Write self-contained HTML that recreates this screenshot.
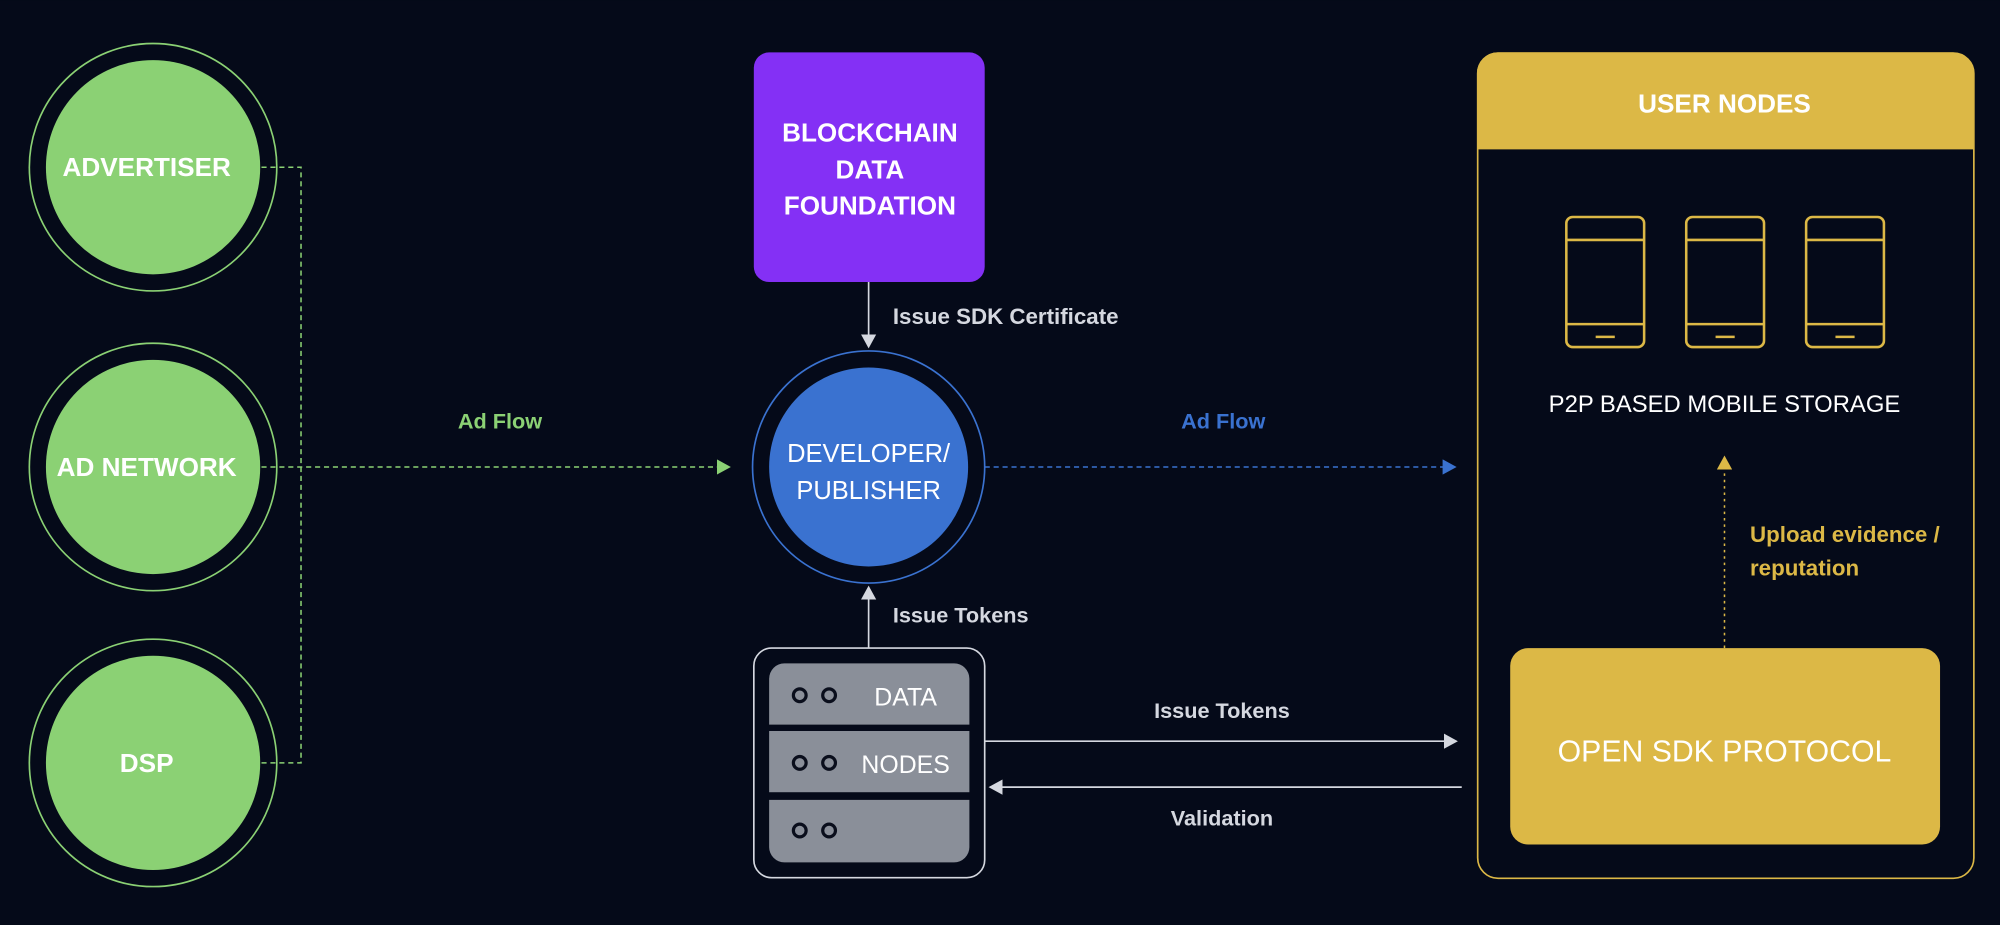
<!DOCTYPE html>
<html><head><meta charset="utf-8"><style>
html,body{margin:0;padding:0;background:#050a19;}
svg{display:block}
text{font-family:"Liberation Sans",sans-serif;}
</style></head><body>
<svg width="2000" height="925" viewBox="0 0 1568 725" xmlns="http://www.w3.org/2000/svg">
<rect width="1568" height="725" fill="#050a19"/>
<defs>
<marker id="ag" markerWidth="12" markerHeight="12" refX="9" refY="6" orient="auto" markerUnits="userSpaceOnUse"><path d="M0,0 L11,6 L0,12 z" fill="#8bd174"/></marker>
<marker id="ab" markerWidth="12" markerHeight="12" refX="9" refY="6" orient="auto" markerUnits="userSpaceOnUse"><path d="M0,0 L11,6 L0,12 z" fill="#3a72d0"/></marker>
<marker id="aw" markerWidth="12" markerHeight="12" refX="9" refY="6" orient="auto" markerUnits="userSpaceOnUse"><path d="M0,0 L11,6 L0,12 z" fill="#d5d8e0"/></marker>
<marker id="ay" markerWidth="12" markerHeight="12" refX="9" refY="6" orient="auto" markerUnits="userSpaceOnUse"><path d="M0,0 L11,6 L0,12 z" fill="#dcb846"/></marker>
</defs>

<g fill="none" stroke="#8bd174" stroke-width="1.3">
<circle cx="120" cy="131" r="97"/><circle cx="120" cy="366" r="97"/><circle cx="120" cy="598" r="97"/>
</g>
<g fill="#8bd174">
<circle cx="120" cy="131" r="84"/><circle cx="120" cy="366" r="84"/><circle cx="120" cy="598" r="84"/>
</g>
<g fill="#fff" font-weight="bold" font-size="20.5" text-anchor="middle">
<text x="115" y="138">ADVERTISER</text>
<text x="115" y="373">AD NETWORK</text>
<text x="115" y="605">DSP</text>
</g>
<g fill="none" stroke="#8bd174" stroke-width="1.2" stroke-dasharray="4,3">
<path d="M205,131 H236 V598 H205"/>
<path d="M205,366 H571" marker-end="url(#ag)"/>
</g>
<text x="392" y="336" fill="#8bd174" font-size="17" font-weight="bold" text-anchor="middle">Ad Flow</text>

<rect x="591" y="41" width="181" height="180" rx="12" fill="#8430f5"/>
<g fill="#fff" font-weight="bold" font-size="20.5" text-anchor="middle">
<text x="682" y="111">BLOCKCHAIN</text><text x="682" y="140">DATA</text><text x="682" y="168">FOUNDATION</text>
</g>
<line x1="681" y1="221" x2="681" y2="271" stroke="#d5d8e0" stroke-width="1.3" marker-end="url(#aw)"/>
<text x="700" y="254" fill="#d5d8e0" font-size="17.5" font-weight="bold">Issue SDK Certificate</text>

<circle cx="681" cy="366" r="91" fill="none" stroke="#3a72d0" stroke-width="1.3"/>
<circle cx="681" cy="366" r="78" fill="#3a72d0"/>
<g fill="#fff" font-size="20" text-anchor="middle">
<text x="681" y="362">DEVELOPER/</text><text x="681" y="391">PUBLISHER</text>
</g>
<line x1="772" y1="366" x2="1140" y2="366" stroke="#3a72d0" stroke-width="1.2" stroke-dasharray="4,3" marker-end="url(#ab)"/>
<text x="959" y="336" fill="#3a72d0" font-size="17" font-weight="bold" text-anchor="middle">Ad Flow</text>

<line x1="681" y1="508" x2="681" y2="461" stroke="#d5d8e0" stroke-width="1.3" marker-end="url(#aw)"/>
<text x="700" y="488" fill="#d5d8e0" font-size="17" font-weight="bold">Issue Tokens</text>

<rect x="591" y="508" width="181" height="180" rx="14" fill="none" stroke="#d5d8e0" stroke-width="1.3"/>
<path d="M603,532 a12,12 0 0 1 12,-12 H748 a12,12 0 0 1 12,12 V568 H603z" fill="#8a8f99"/>
<rect x="603" y="573" width="157" height="48" fill="#8a8f99"/>
<path d="M603,627 H760 V664 a12,12 0 0 1 -12,12 H615 a12,12 0 0 1 -12,-12z" fill="#8a8f99"/>
<g fill="none" stroke="#0a0e1c" stroke-width="2.5">
<circle cx="627" cy="545" r="5"/><circle cx="650" cy="545" r="5"/>
<circle cx="627" cy="598" r="5"/><circle cx="650" cy="598" r="5"/>
<circle cx="627" cy="651" r="5"/><circle cx="650" cy="651" r="5"/>
</g>
<g fill="#fff" font-size="19.5" text-anchor="middle">
<text x="710" y="553">DATA</text><text x="710" y="606">NODES</text>
</g>

<line x1="772" y1="581" x2="1141" y2="581" stroke="#d5d8e0" stroke-width="1.3" marker-end="url(#aw)"/>
<text x="958" y="563" fill="#d5d8e0" font-size="17" font-weight="bold" text-anchor="middle">Issue Tokens</text>
<line x1="1146" y1="617" x2="777" y2="617" stroke="#d5d8e0" stroke-width="1.3" marker-end="url(#aw)"/>
<text x="958" y="647" fill="#d5d8e0" font-size="17" font-weight="bold" text-anchor="middle">Validation</text>

<path d="M1158,57 a16,16 0 0 1 16,-16 H1531 a16,16 0 0 1 16,16 V117 H1158z" fill="#dcb846"/>
<rect x="1158.5" y="41.5" width="389" height="647" rx="16" fill="none" stroke="#dcb846" stroke-width="1.3"/>
<text x="1352" y="88" fill="#fff" font-weight="bold" font-size="20.5" text-anchor="middle">USER NODES</text>
<g fill="none" stroke="#dcb846" stroke-width="2">
<rect x="1228" y="170" width="61" height="102" rx="5"/><line x1="1228" y1="188" x2="1289" y2="188"/><line x1="1228" y1="254" x2="1289" y2="254"/><line x1="1251" y1="264" x2="1266" y2="264"/>
<rect x="1322" y="170" width="61" height="102" rx="5"/><line x1="1322" y1="188" x2="1383" y2="188"/><line x1="1322" y1="254" x2="1383" y2="254"/><line x1="1345" y1="264" x2="1360" y2="264"/>
<rect x="1416" y="170" width="61" height="102" rx="5"/><line x1="1416" y1="188" x2="1477" y2="188"/><line x1="1416" y1="254" x2="1477" y2="254"/><line x1="1439" y1="264" x2="1454" y2="264"/>
</g>
<text x="1352" y="323" fill="#fff" font-size="18.7" text-anchor="middle">P2P BASED MOBILE STORAGE</text>
<line x1="1352" y1="508" x2="1352" y2="359" stroke="#dcb846" stroke-width="1.2" stroke-dasharray="2,3" marker-end="url(#ay)"/>
<text x="1372" y="425" fill="#dcb846" font-size="17.5" font-weight="bold">Upload evidence /</text>
<text x="1372" y="451" fill="#dcb846" font-size="17.5" font-weight="bold">reputation</text>
<rect x="1184" y="508" width="337" height="154" rx="14" fill="#dcb846"/>
<text x="1352" y="597" fill="#fff" font-size="23.7" text-anchor="middle">OPEN SDK PROTOCOL</text>
</svg>
</body></html>
